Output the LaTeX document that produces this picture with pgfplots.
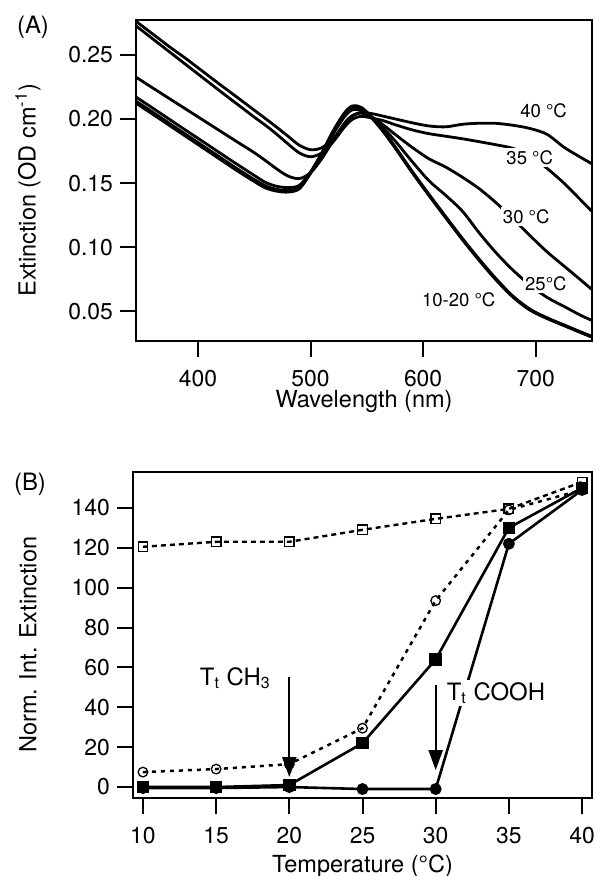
\documentclass[border=0pt]{standalone}
\usepackage{fontspec}
\setmainfont{TeX Gyre Heros}
\usepackage{pgfplots}
\usepackage{pgfplotstable}
\pgfplotsset{compat=1.18}
\usetikzlibrary{arrows.meta}

\pgfplotstableread{
x     c10     c15     c20     c25     c30     c35     c40
345   0.2122  0.2130  0.2138  0.2170  0.2325  0.2725  0.2760
360   0.2035  0.2043  0.2051  0.2083  0.2240  0.2622  0.2660
375   0.1947  0.1955  0.1963  0.1995  0.2156  0.2520  0.2560
390   0.1859  0.1867  0.1875  0.1907  0.2072  0.2418  0.2465
405   0.1771  0.1779  0.1787  0.1820  0.1988  0.2316  0.2365
420   0.1683  0.1691  0.1699  0.1732  0.1904  0.2214  0.2265
435   0.1595  0.1603  0.1611  0.1645  0.1820  0.2114  0.2167
450   0.1512  0.1520  0.1528  0.1560  0.1737  0.2014  0.2068
460   0.1462  0.1470  0.1478  0.1505  0.1675  0.1950  0.2002
470   0.1437  0.1444  0.1451  0.1475  0.1610  0.1880  0.1935
480   0.1430  0.1436  0.1443  0.1465  0.1555  0.1805  0.1865
490   0.1455  0.1460  0.1466  0.1482  0.1535  0.1735  0.1795
500   0.1575  0.1580  0.1585  0.1585  0.1580  0.1705  0.1760
510   0.1725  0.1730  0.1735  0.1722  0.1690  0.1735  0.1775
520   0.1895  0.1900  0.1905  0.1880  0.1830  0.1820  0.1845
530   0.2035  0.2040  0.2045  0.2015  0.1965  0.1935  0.1955
537   0.2090  0.2095  0.2100  0.2070  0.2025  0.1995  0.2020
545   0.2080  0.2085  0.2090  0.2065  0.2045  0.2020  0.2050
555   0.2000  0.2005  0.2010  0.2010  0.2010  0.2005  0.2040
565   0.1895  0.1900  0.1905  0.1925  0.1950  0.1985  0.2020
575   0.1775  0.1780  0.1785  0.1830  0.1880  0.1955  0.2000
590   0.1585  0.1590  0.1595  0.1670  0.1780  0.1915  0.1970
605   0.1405  0.1410  0.1415  0.1520  0.1690  0.1885  0.1945
620   0.1230  0.1235  0.1240  0.1405  0.1625  0.1865  0.1938
635   0.1058  0.1063  0.1068  0.1280  0.1545  0.1845  0.1958
650   0.0895  0.0900  0.0905  0.1110  0.1455  0.1822  0.1966
665   0.0743  0.0748  0.0753  0.0955  0.1345  0.1798  0.1965
680   0.0610  0.0614  0.0618  0.0820  0.1220  0.1770  0.1950
695   0.0510  0.0514  0.0518  0.0705  0.1090  0.1715  0.1925
710   0.0445  0.0448  0.0451  0.0610  0.0965  0.1615  0.1880
725   0.0390  0.0393  0.0396  0.0540  0.0855  0.1500  0.1780
740   0.0335  0.0338  0.0341  0.0470  0.0745  0.1368  0.1700
750   0.0300  0.0303  0.0306  0.0430  0.0670  0.1280  0.1650
}\spectra

\pgfplotstableread{
T   osq    ocirc  fsq    fcirc
10  120.5  7.5    0      -0.5
15  123    9      0      -0.5
20  123    11.5   1      0
25  129    29.5   22     -1
30  134.5  93.5   64     -1
35  139.5  139    130    122
40  153    149    150    149
}\intext

\pgfplotsset{
  myaxis/.style={
    scale only axis,
    axis line style={line width=1bp},
    every tick/.style={line width=1bp, black},
    major tick length=8bp,
    tick align=outside,
    tick pos=left,
    /pgf/number format/assume math mode=true,
    tick label style={font=\fontsize{11.5}{13}\selectfont},
    label style={font=\fontsize{11.8}{14}\selectfont},
    xticklabel style={yshift=-3bp},
  },
  spec/.style={black, line width=1.4bp, smooth, tension=0.5, no marks},
}

\begin{document}
\begin{tikzpicture}
\path[use as bounding box] (0,0) rectangle (297.5bp,-438bp);

\node[font=\fontsize{12}{14}\selectfont] at (16.5bp,-13.5bp) {(A)};
\node[font=\fontsize{12}{14}\selectfont] at (15bp,-242bp) {(B)};

\begin{axis}[myaxis,
  at={(68bp,-170.5bp)}, anchor=south west,
  width=228bp, height=160.5bp,
  xmin=345, xmax=750, ymin=0.027, ymax=0.277,
  xtick={400,500,600,700},
  ytick={0.05,0.10,0.15,0.20,0.25},
  yticklabel style={/pgf/number format/.cd, fixed, fixed zerofill, precision=2},
  xlabel={Wavelength (nm)},
  ylabel={Extinction (OD cm\textsuperscript{-1})},
  xlabel style={at={(axis description cs:0.5,0)}, anchor=center, yshift=-30bp},
  ylabel style={at={(axis description cs:-0.237,0.47)}, anchor=center},
]
\addplot[spec] table[x=x, y=c10] {\spectra};
\addplot[spec] table[x=x, y=c15] {\spectra};
\addplot[spec] table[x=x, y=c20] {\spectra};
\addplot[spec] table[x=x, y=c25] {\spectra};
\addplot[spec] table[x=x, y=c30] {\spectra};
\addplot[spec] table[x=x, y=c35] {\spectra};
\addplot[spec] table[x=x, y=c40] {\spectra};
\begin{scope}[every node/.style={font=\fontsize{9.3}{11}\selectfont, fill=white, inner sep=1.2bp}]
\node at (axis cs:707,0.2064) {40 °C};
\node at (axis cs:694.7,0.170) {35 °C};
\node at (axis cs:691.6,0.124) {30 °C};
\node at (axis cs:709,0.0718) {25°C};
\node at (axis cs:631.6,0.0594) {10-20 °C};
\end{scope}
\end{axis}

\begin{axis}[myaxis,
  at={(66.5bp,-399bp)}, anchor=south west,
  width=229.5bp, height=163bp,
  xmin=9.32, xmax=40.68, ymin=-5.5, ymax=158,
  xtick={10,15,20,25,30,35,40},
  ytick={0,20,40,60,80,100,120,140},
  xlabel={Temperature (°C)},
  ylabel={Norm. Int. Extinction},
  xlabel style={at={(axis description cs:0.5,0)}, anchor=center, yshift=-34bp},
  ylabel style={at={(axis description cs:-0.229,0.47)}, anchor=center},
  clip=false,
]
\addplot[black, line width=1.2bp, dash pattern=on 2.5bp off 2bp,
  mark=square, mark size=2.4bp, mark options={solid, line width=0.65bp, fill=white}]
  table[x=T, y=osq] {\intext};
\addplot[black, line width=1.25bp, dash pattern=on 2bp off 2.5bp,
  mark=o, mark size=2.4bp, mark options={solid, line width=0.65bp, fill=white}]
  table[x=T, y=ocirc] {\intext};
\addplot[black, line width=1.3bp,
  mark=*, mark size=2.3bp, mark options={solid}]
  table[x=T, y=fcirc] {\intext};
\addplot[black, line width=1.3bp,
  mark=square*, mark size=2.5bp, mark options={solid}]
  table[x=T, y=fsq] {\intext};

\draw[line width=1.1bp, -{Triangle[length=10bp,width=7bp]}] (axis cs:20,55) -- (axis cs:20,5);
\draw[line width=1.1bp, -{Triangle[length=10bp,width=7bp]}] (axis cs:30,51) -- (axis cs:30,8.5);
\node[anchor=base east, font=\fontsize{12}{14}\selectfont, inner sep=1bp] at (axis cs:18.9,51) {T\textsubscript{t} CH\textsubscript{3}};
\node[anchor=base west, font=\fontsize{12}{14}\selectfont, fill=white, inner sep=1bp] at (axis cs:30.6,43.5) {T\textsubscript{t} COOH};
\end{axis}
\end{tikzpicture}
\end{document}
